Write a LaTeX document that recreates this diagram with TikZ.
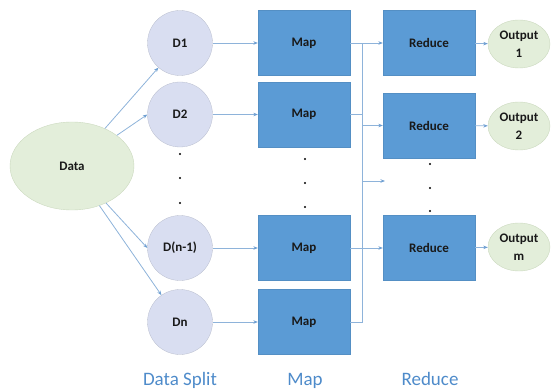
\documentclass[tikz,border=0pt]{standalone}
\usepackage{fontspec}
\setmainfont{Carlito}
\usetikzlibrary{shapes.geometric,arrows.meta}
\definecolor{mapblue}{HTML}{5B9BD5}
\definecolor{splitfill}{HTML}{D9DEF1}
\definecolor{greenfill}{HTML}{E3EEDA}
\definecolor{greenline}{HTML}{CBD9BF}
\definecolor{wire}{HTML}{8EB3DA}
\definecolor{tipblue}{HTML}{6E9FD2}
\definecolor{caption}{HTML}{4E8BCA}
\begin{document}
\begin{tikzpicture}[x=1pt,y=-1pt,
  every node/.style={font=\fontsize{13}{14}\selectfont\bfseries, text=black!90},
  datanode/.style={ellipse, fill=greenfill, draw=greenline, line width=0.4pt,
    minimum width=124pt, minimum height=88pt, inner sep=0pt},
  splitnode/.style={circle, fill=splitfill, draw=splitfill!85!black, line width=0.3pt,
    minimum size=65pt, inner sep=0pt},
  block/.style={rectangle, fill=mapblue, draw=mapblue!92!black, line width=0.3pt,
    minimum width=92pt, minimum height=65pt, inner sep=0pt},
  outnode/.style={ellipse, fill=greenfill, draw=greenline, line width=0.4pt,
    minimum width=62pt, minimum height=48pt, inner sep=0pt, align=center,
    font=\fontsize{13}{18}\selectfont\bfseries},
  wireline/.style={draw=wire, line width=0.8pt},
  arr/.style={wireline, -{Stealth[length=4.5pt,width=3.5pt,color=tipblue]}},
  captiontext/.style={font=\fontsize{19}{20}\selectfont, text=caption, anchor=base, inner sep=0pt},
  dot/.style={fill=black}
]
\useasboundingbox (0,0) rectangle (551,390);

% input data
\node[datanode] (data) at (72,166) {Data};

% split chunks
\node[splitnode] (d1)  at (180,43)  {D1};
\node[splitnode] (d2)  at (180,114.5) {D2};
\node[splitnode] (dn1) at (180,248) {D(n-1)};
\node[splitnode] (dn)  at (180,322) {Dn};

% map tasks
\node[block] (m1) at (304,43)    {Map};
\node[block] (m2) at (304,114.5) {Map};
\node[block] (m3) at (304,248)   {Map};
\node[block] (m4) at (304,322)   {Map};

% reduce tasks
\node[block] (r1) at (429,43)    {Reduce};
\node[block] (r2) at (429,125.5) {Reduce};
\node[block] (r3) at (429,248)   {Reduce};

% outputs
\node[outnode] (o1) at (519,44)    {Output\\1};
\node[outnode] (o2) at (519,126)   {Output\\2};
\node[outnode] (om) at (519,247)   {Output\\m};

% data to splits
\draw[arr] (data) -- (d1);
\draw[arr] (data) -- (d2.west);
\draw[arr] (data) -- (dn1.west);
\draw[arr] (data) -- (dn);

% splits to maps
\draw[arr] (d1) -- (m1);
\draw[arr] (d2) -- (m2);
\draw[arr] (dn1) -- (m3);
\draw[arr] (dn) -- (m4);

% shuffle bus
\coordinate (bustop) at (362,43);
\coordinate (spare) at (385,181);
\draw[wireline] (m4.east) -| (bustop);
\draw[wireline] (m2.east) -- (m2.east -| bustop);
\draw[arr] (m1) -- (r1);
\draw[arr] (m3) -- (r3);
\draw[arr] (bustop |- r2) -- (r2.west);
\draw[arr] (spare -| bustop) -- (spare);

% reduces to outputs
\draw[arr] (r1) -- (o1);
\draw[arr] (r2) -- (o2);
\draw[arr] (r3) -- (om);

% ellipsis dots
\foreach \y in {154,178,203} \fill[dot] (180,\y) circle (1.1pt);
\foreach \y in {159,183,207} \fill[dot] (305,\y) circle (1.1pt);
\foreach \y in {164,188,211} \fill[dot] (430,\y) circle (1.1pt);

% stage captions
\node[captiontext] (capsplit)  at (180,385) {Data Split};
\node[captiontext] (capmap)    at (305,385) {Map};
\node[captiontext] (capreduce) at (430,385) {Reduce};
\end{tikzpicture}
\end{document}
